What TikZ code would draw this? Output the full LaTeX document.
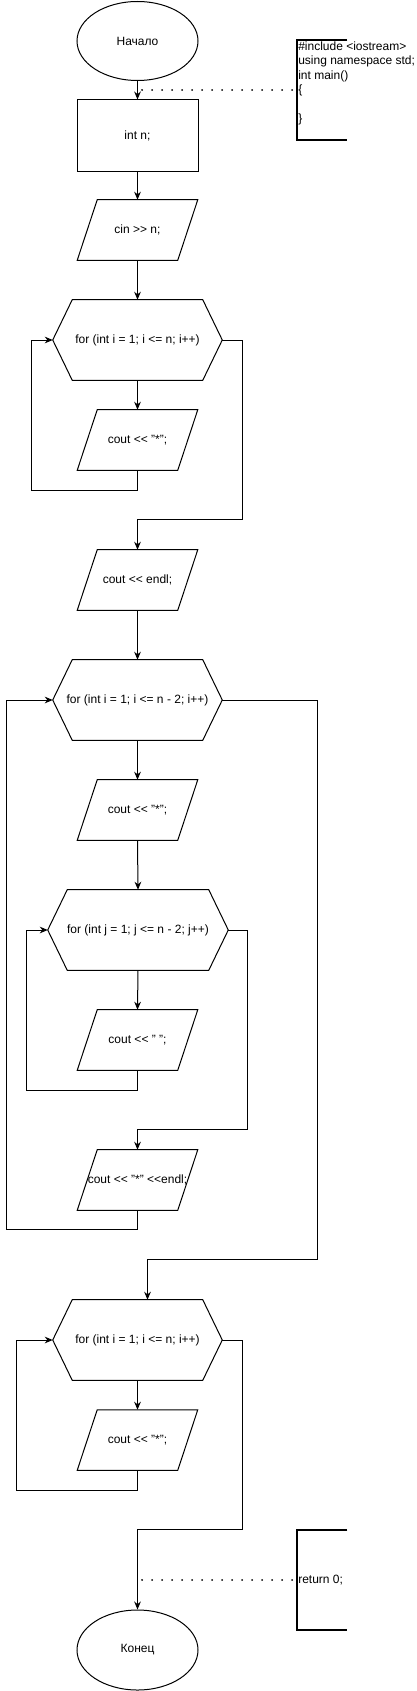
\documentclass[tikz,border=0pt]{standalone}
\usepackage{fontspec}
\setmainfont{Liberation Sans}
\usetikzlibrary{shapes.geometric,arrows.meta,calc}
\newcommand\opout{<\kern0pt<}
\newcommand\opin{>\kern0pt>}
\newcommand\parashape[1]{\draw[shapeline] ($(#1.north west)+(20,0)$) -- (#1.north east) -- ($(#1.south east)+(-20,0)$) -- (#1.south west) -- cycle;}
\newcommand\hexshape[2]{\draw[shapeline] ($(#1.north west)+(#2,0)$) -- ($(#1.north east)+(-#2,0)$) -- (#1.east) -- ($(#1.south east)+(-#2,0)$) -- ($(#1.south west)+(#2,0)$) -- (#1.west) -- cycle;}
\newcommand\bracketshape[1]{\draw[line width=1.5pt] (#1.north east) -- (#1.north west) -- (#1.south west) -- (#1.south east);}
\begin{document}
\begin{tikzpicture}[x=0.75pt,y=-0.75pt,
  every node/.style={font=\fontsize{9pt}{10.875pt}\selectfont, inner sep=0pt},
  shapeline/.style={line width=0.75pt},
  box/.style={rectangle, minimum width={121*0.75pt}, minimum height={72*0.75pt}},
  term/.style={ellipse, draw, line width=0.75pt, minimum width={121*0.75pt}, minimum height={79*0.75pt}},
  para/.style={rectangle, minimum width={120*0.75pt}, minimum height={60*0.75pt}},
  hexa/.style={rectangle, minimum width={169*0.75pt}, minimum height={80*0.75pt}},
  hexb/.style={rectangle, minimum width={180*0.75pt}, minimum height={80*0.75pt}},
  brk/.style={rectangle, minimum width={50*0.75pt}, minimum height={100*0.75pt}},
  arr/.style={line width=0.75pt, -{Stealth[length=6pt,width=5pt]}},
  line/.style={line width=0.75pt},
  dotline/.style={line width=1.5pt, dash pattern=on 0.01pt off 7.5pt, line cap=round}]
\useasboundingbox (0,0) rectangle (417,1691);

\node[term] (start) at (137.5,41) {Начало};
\node[box, draw, line width=0.75pt] (intn) at (137.5,136) {int n;};
\node[para] (cin) at (137.5,230) {cin \opin{} n;}; \parashape{cin}
\node[hexa] (for1) at (137.5,340) {for (int i = 1; i <= n; i++)}; \hexshape{for1}{19.5}
\node[para] (out1) at (137.5,440) {cout \opout{} "*";}; \parashape{out1}
\node[para] (endl) at (137.5,580) {cout \opout{} endl;}; \parashape{endl}
\node[hexa] (for2) at (137.5,700) {for (int i = 1; i <= n - 2; i++)}; \hexshape{for2}{19.5}
\node[para] (out2) at (137.5,810) {cout \opout{} "*";}; \parashape{out2}
\node[hexb] (for3) at (138,930) {for (int j = 1; j <= n - 2; j++)}; \hexshape{for3}{19.5}
\node[para] (out3) at (137.5,1040) {cout \opout{} " ";}; \parashape{out3}
\node[para] (out4) at (137.5,1180) {cout \opout{} "*" \opout{}endl;}; \parashape{out4}
\node[hexa] (for4) at (137.5,1340) {for (int i = 1; i <= n; i++)}; \hexshape{for4}{19.5}
\node[para] (out5) at (137.5,1440) {cout \opout{} "*";}; \parashape{out5}
\node[term, minimum height={80*0.75pt}] (end) at (137.5,1650) {Конец};

\node[brk] (code1) at (322,90) {}; \bracketshape{code1}
\node[anchor=north west, align=left] (code1txt) at (298,41.5) {\#include <iostream>\\using namespace std;\\int main()\\\{\\\\\}};
\node[brk] (code2) at (322,1580) {}; \bracketshape{code2}
\node[anchor=west] (code2txt) at (298,1580) {return 0;};

\draw[arr] (start.south) -- (intn.north);
\draw[arr] (intn.south) -- (cin.north);
\draw[arr] (cin.south) -- (for1.north);
\draw[arr] (for1.south) -- (out1.north);
\draw[arr] (out1.south) -- ++(0,20) -| ($(for1.west)+(-21,0)$) -- (for1.west);
\draw[arr] (for1.east) -- ++(20,0) |- ($(endl.north)+(0,-30)$) -- (endl.north);
\draw[arr] (endl.south) -- (for2.north);
\draw[arr] (for2.south) -- (out2.north);
\draw[arr] (out2.south) -- (for3.north);
\draw[arr] (for3.south) -- (out3.north);
\draw[arr] (out3.south) -- ++(0,20) -| ($(for3.west)+(-21,0)$) -- (for3.west);
\draw[arr] (for3.east) -- ++(19,0) |- ($(out4.north)+(0,-20)$) -- (out4.north);
\draw[arr] (out4.south) -- ++(0,19) -| ($(for2.west)+(-46,0)$) -- (for2.west);
\draw[arr] (for2.east) -- ++(95,0) |- ($(for4.north)+(10,-40)$) -- ($(for4.north)+(10,0)$);
\draw[arr] (for4.south) -- (out5.north);
\draw[arr] (out5.south) -- ++(0,20) -| ($(for4.west)+(-36,0)$) -- (for4.west);
\draw[arr] (for4.east) -- ++(20,0) |- ($(end.north)+(0,-80)$) -- (end.north);

\coordinate (d1) at (142,90);
\draw[dotline] (d1) -- (code1.west);
\coordinate (d2) at (142,1580);
\draw[dotline] (d2) -- (code2.west);
\end{tikzpicture}
\end{document}
